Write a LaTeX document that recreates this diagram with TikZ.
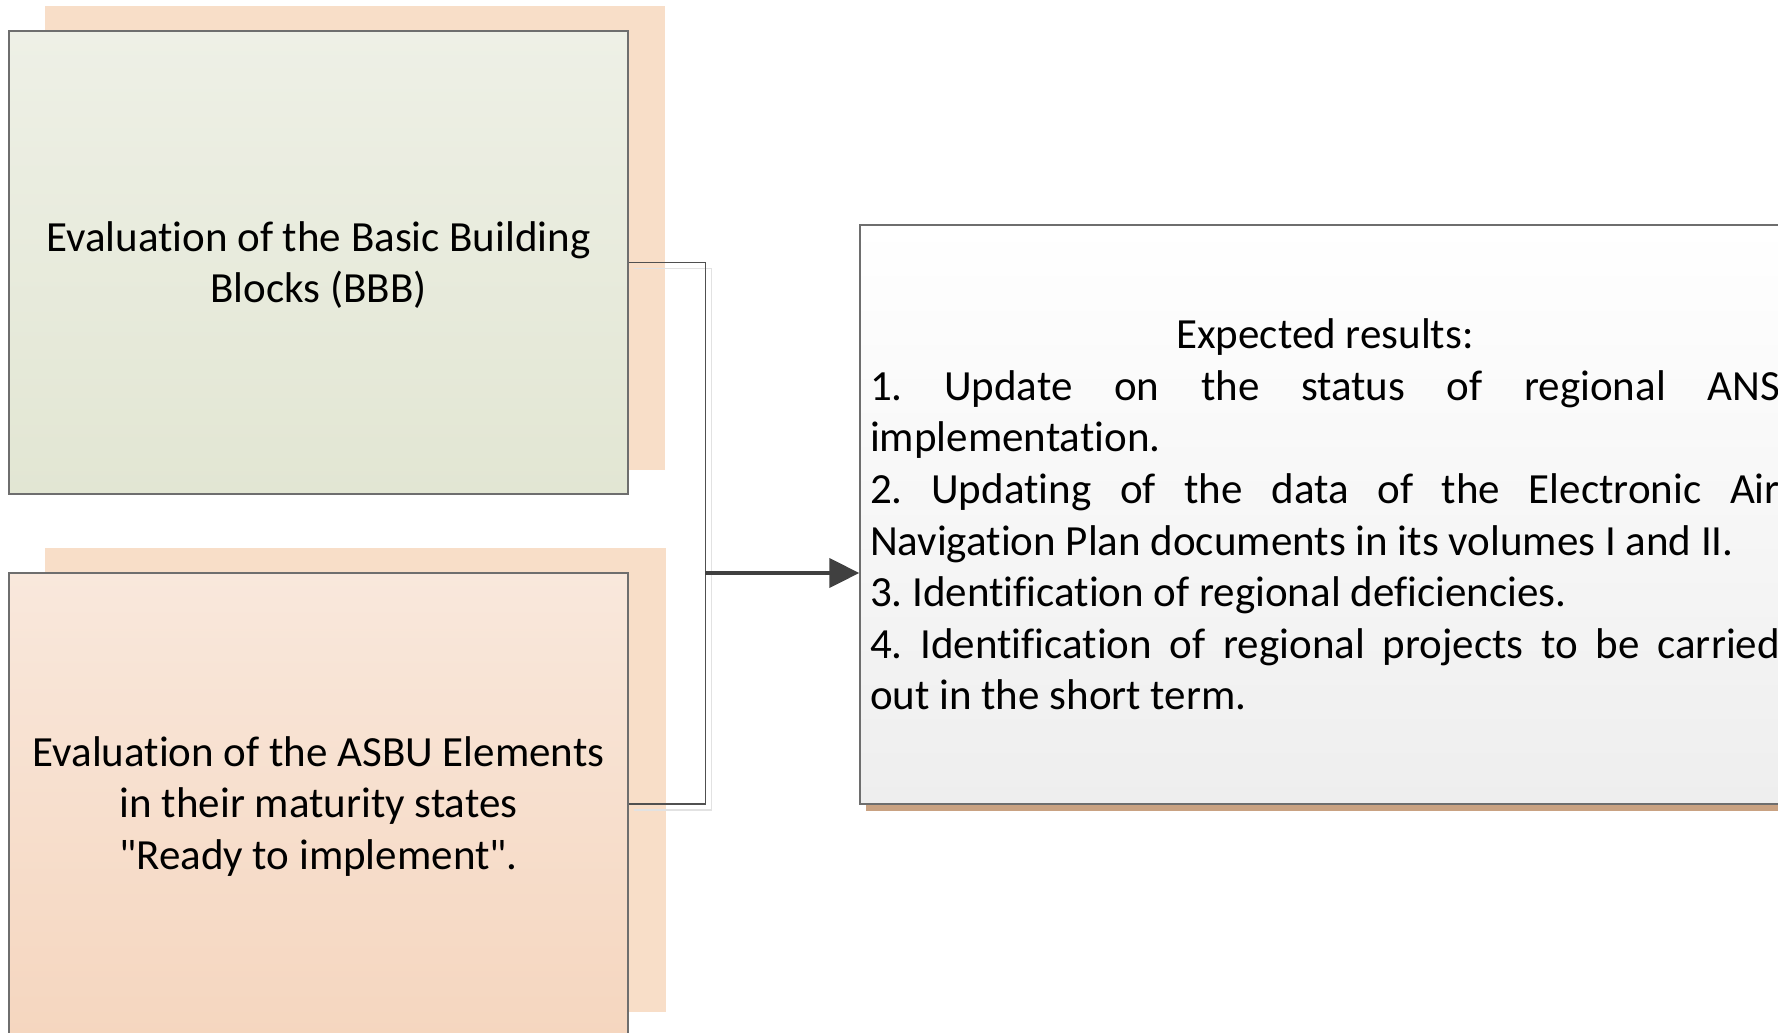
\documentclass[tikz,border=0pt]{standalone}
\usepackage{fontspec}
\setmainfont{Carlito}[Ligatures={TeXOff,NoCommon}]
\usetikzlibrary{arrows.meta}

\definecolor{peachshadow}{HTML}{F8DEC8}
\definecolor{greentop}{HTML}{EEF0E6}
\definecolor{greenbot}{HTML}{E2E6D3}
\definecolor{peachtop}{HTML}{F9E8DC}
\definecolor{peachbot}{HTML}{F5D6BF}
\definecolor{restop}{HTML}{FFFFFF}
\definecolor{resbot}{HTML}{EEEEEE}
\definecolor{brownshadow}{HTML}{C9A282}
\definecolor{boxline}{HTML}{6E6E6E}
\definecolor{connline}{HTML}{505050}
\definecolor{connghost}{HTML}{E2E2E2}
\definecolor{arrowgray}{HTML}{404040}

\newcommand{\boxlabel}[1]{\raisebox{-2.5pt}[\height][\depth]{\parbox{600pt}{\centering #1}}}

\tikzset{
  bodytext/.style={font=\fontsize{43}{51.6}\selectfont},
  evalbox/.style={bodytext, draw=boxline, line width=1.4pt, inner sep=0pt,
    minimum width=619pt, align=center},
  resultbox/.style={bodytext, draw=boxline, line width=1.4pt, inner xsep=10pt,
    inner ysep=0pt, minimum width=930pt, minimum height=579pt,
    top color=restop, bottom color=resbot},
  connector/.style={draw=connline, line width=1.3pt},
  ghostline/.style={draw=connghost, line width=1.3pt},
  flowarrow/.style={draw=arrowgray, line width=4pt,
    -{Triangle[length=30pt,width=29pt]}}
}

\begin{document}
\begin{tikzpicture}[x=1pt,y=-1pt]
  \useasboundingbox (0,0) rectangle (1778,1033);
  \clip (0,0) rectangle (1778,1033);
  \fill[white] (0,0) rectangle (1778,1033);

  % offset backing panels of the two evaluation boxes
  \fill[peachshadow] (45,6) rectangle (665,470);
  \fill[peachshadow] (45,548) rectangle (666,1012);
  % drop shadow of the results box
  \fill[brownshadow] (866,231) rectangle (1796,811);

  % evaluation boxes
  \node[evalbox, minimum height=463pt, top color=greentop, bottom color=greenbot]
    (bbb) at (318.5,262.5)
    {\boxlabel{Evaluation of the Basic Building\\Blocks (BBB)}};
  \node[evalbox, minimum height=462pt, top color=peachtop, bottom color=peachbot]
    (asbu) at (318.5,804)
    {\boxlabel{Evaluation of the ASBU Elements\\in their maturity states\\"Ready to implement".}};

  % results box
  \node[resultbox] (res) at (1325,514.5) {%
    \begin{minipage}{910pt}
      \fontsize{43}{51.6}\selectfont\frenchspacing
      \parindent=0pt \hyphenpenalty=10000 \tolerance=10000
      {\centering Expected results:\par}
      1. Update on the status of regional ANS\linebreak implementation.\par
      2. Updating of the data of the Electronic Air\linebreak Navigation Plan documents in its volumes I and II.\par
      3. Identification of regional deficiencies.\par
      4. Identification of regional projects to be carried\linebreak out in the short term.\par
    \end{minipage}};

  % bracket joining both evaluations
  \draw[ghostline] ([shift={(5,6)}]bbb.east) -- ++(78,0) |- ([shift={(5,6)}]asbu.east);
  \draw[connector] (bbb.east) -- ++(77,0) |- (asbu.east);
  \coordinate (join) at (705,573);
  \draw[flowarrow] (join) -- (join -| res.west);
\end{tikzpicture}
\end{document}
